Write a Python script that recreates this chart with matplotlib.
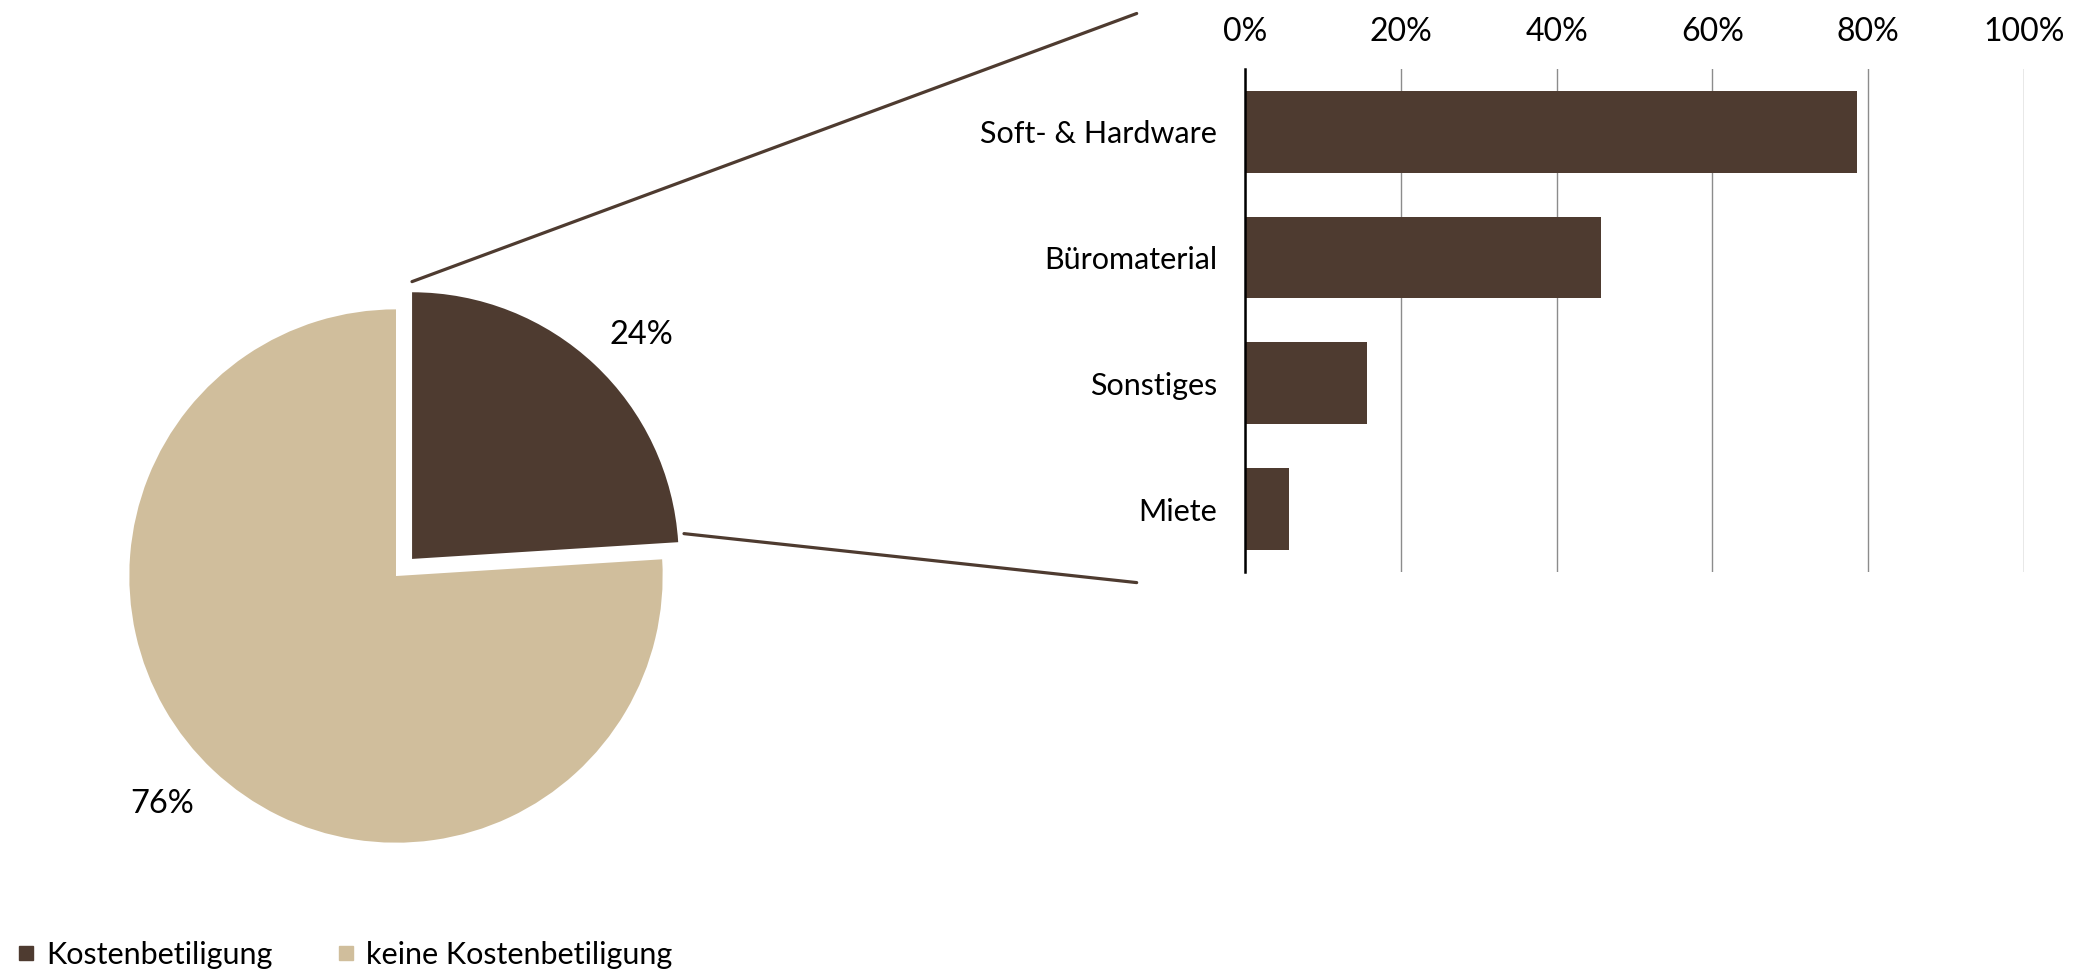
import matplotlib.pyplot as plt
from matplotlib.patches import ConnectionPatch
from matplotlib.lines import Line2D

plt.rcParams['font.family'] = ['Lato', 'DejaVu Sans']

# pie data
pie_labels = ['Kostenbetiligung', 'keine Kostenbetiligung']
pie_values = [24, 76]

# bar data (share within Kostenbetiligung)
bar_cats = ['Soft- & Hardware', 'Büromaterial', 'Sonstiges', 'Miete']
bar_values = [78.6, 45.7, 15.6, 5.6]
xticks = [0, 20, 40, 60, 80, 100]

dark = '#4E3B30'
light = '#D0BE9C'

fig = plt.figure(figsize=(20.76, 9.75), dpi=100)

# ---- pie ----
ax_pie = fig.add_axes([0.0366, 0.0810, 0.3083, 0.6564])
wedges, texts, autotexts = ax_pie.pie(pie_values, colors=[dark, light], startangle=90,
                                      counterclock=False, explode=[0.088, 0],
                                      autopct='%d%%', pctdistance=1.21,
                                      textprops={'fontsize': 23.5, 'color': 'black'})
# excel puts the percent labels a bit differently
autotexts[0].set_position((0.92, 0.905))
autotexts[1].set_position((-0.876, -0.856))
ax_pie.set_xlim(-1.2, 1.2)
ax_pie.set_ylim(-1.2, 1.2)
ax_pie.set_aspect('equal')
ax_pie.axis('off')

# ---- bars ----
ax_bar = fig.add_axes([0.5997, 0.4133, 0.3753, 0.5161])
ypos = list(range(len(bar_cats)))
ax_bar.barh(ypos, bar_values, height=0.65, color=dark, zorder=3)
ax_bar.set_ylim(len(bar_cats) - 0.5, -0.5)
ax_bar.set_xlim(0, 100)
ax_bar.set_xticks(xticks)
ax_bar.set_xticklabels([f'{t}%' for t in xticks])
ax_bar.set_yticks(ypos)
ax_bar.set_yticklabels(bar_cats)
ax_bar.xaxis.tick_top()
ax_bar.tick_params(axis='x', length=0, pad=16, labelsize=23)
ax_bar.tick_params(axis='y', length=0, pad=20, labelsize=22)
ax_bar.grid(axis='x', color='#8c8c8c', linewidth=1.0, zorder=0)
for s in ['top', 'right', 'bottom']:
    ax_bar.spines[s].set_visible(False)
ax_bar.spines['left'].set_linewidth(1.8)
ax_bar.spines['left'].set_color('black')
ax_bar.spines['left'].set_zorder(4)

# ---- connector lines from pie slice to bar chart ----
for p_pie, p_bar in [((0.06, 1.104), (-0.139, 1.11)), ((1.08, 0.159), (-0.139, -0.021))]:
    con = ConnectionPatch(xyA=p_pie, coordsA=ax_pie.transData,
                          xyB=p_bar, coordsB=ax_bar.transAxes,
                          color=dark, linewidth=2.3)
    fig.add_artist(con)

# ---- legend ----
handles = [Line2D([0], [0], marker='s', linestyle='none', markersize=10.5,
                  markerfacecolor=c, markeredgecolor=c) for c in [dark, light]]
fig.legend(handles, pie_labels, loc='center left', bbox_to_anchor=(-0.002, 0.0205),
           ncol=2, frameon=False, fontsize=22, handletextpad=0.15,
           columnspacing=1.9, handlelength=1.0, borderpad=0.0)

fig.savefig('out.png', dpi=100)
